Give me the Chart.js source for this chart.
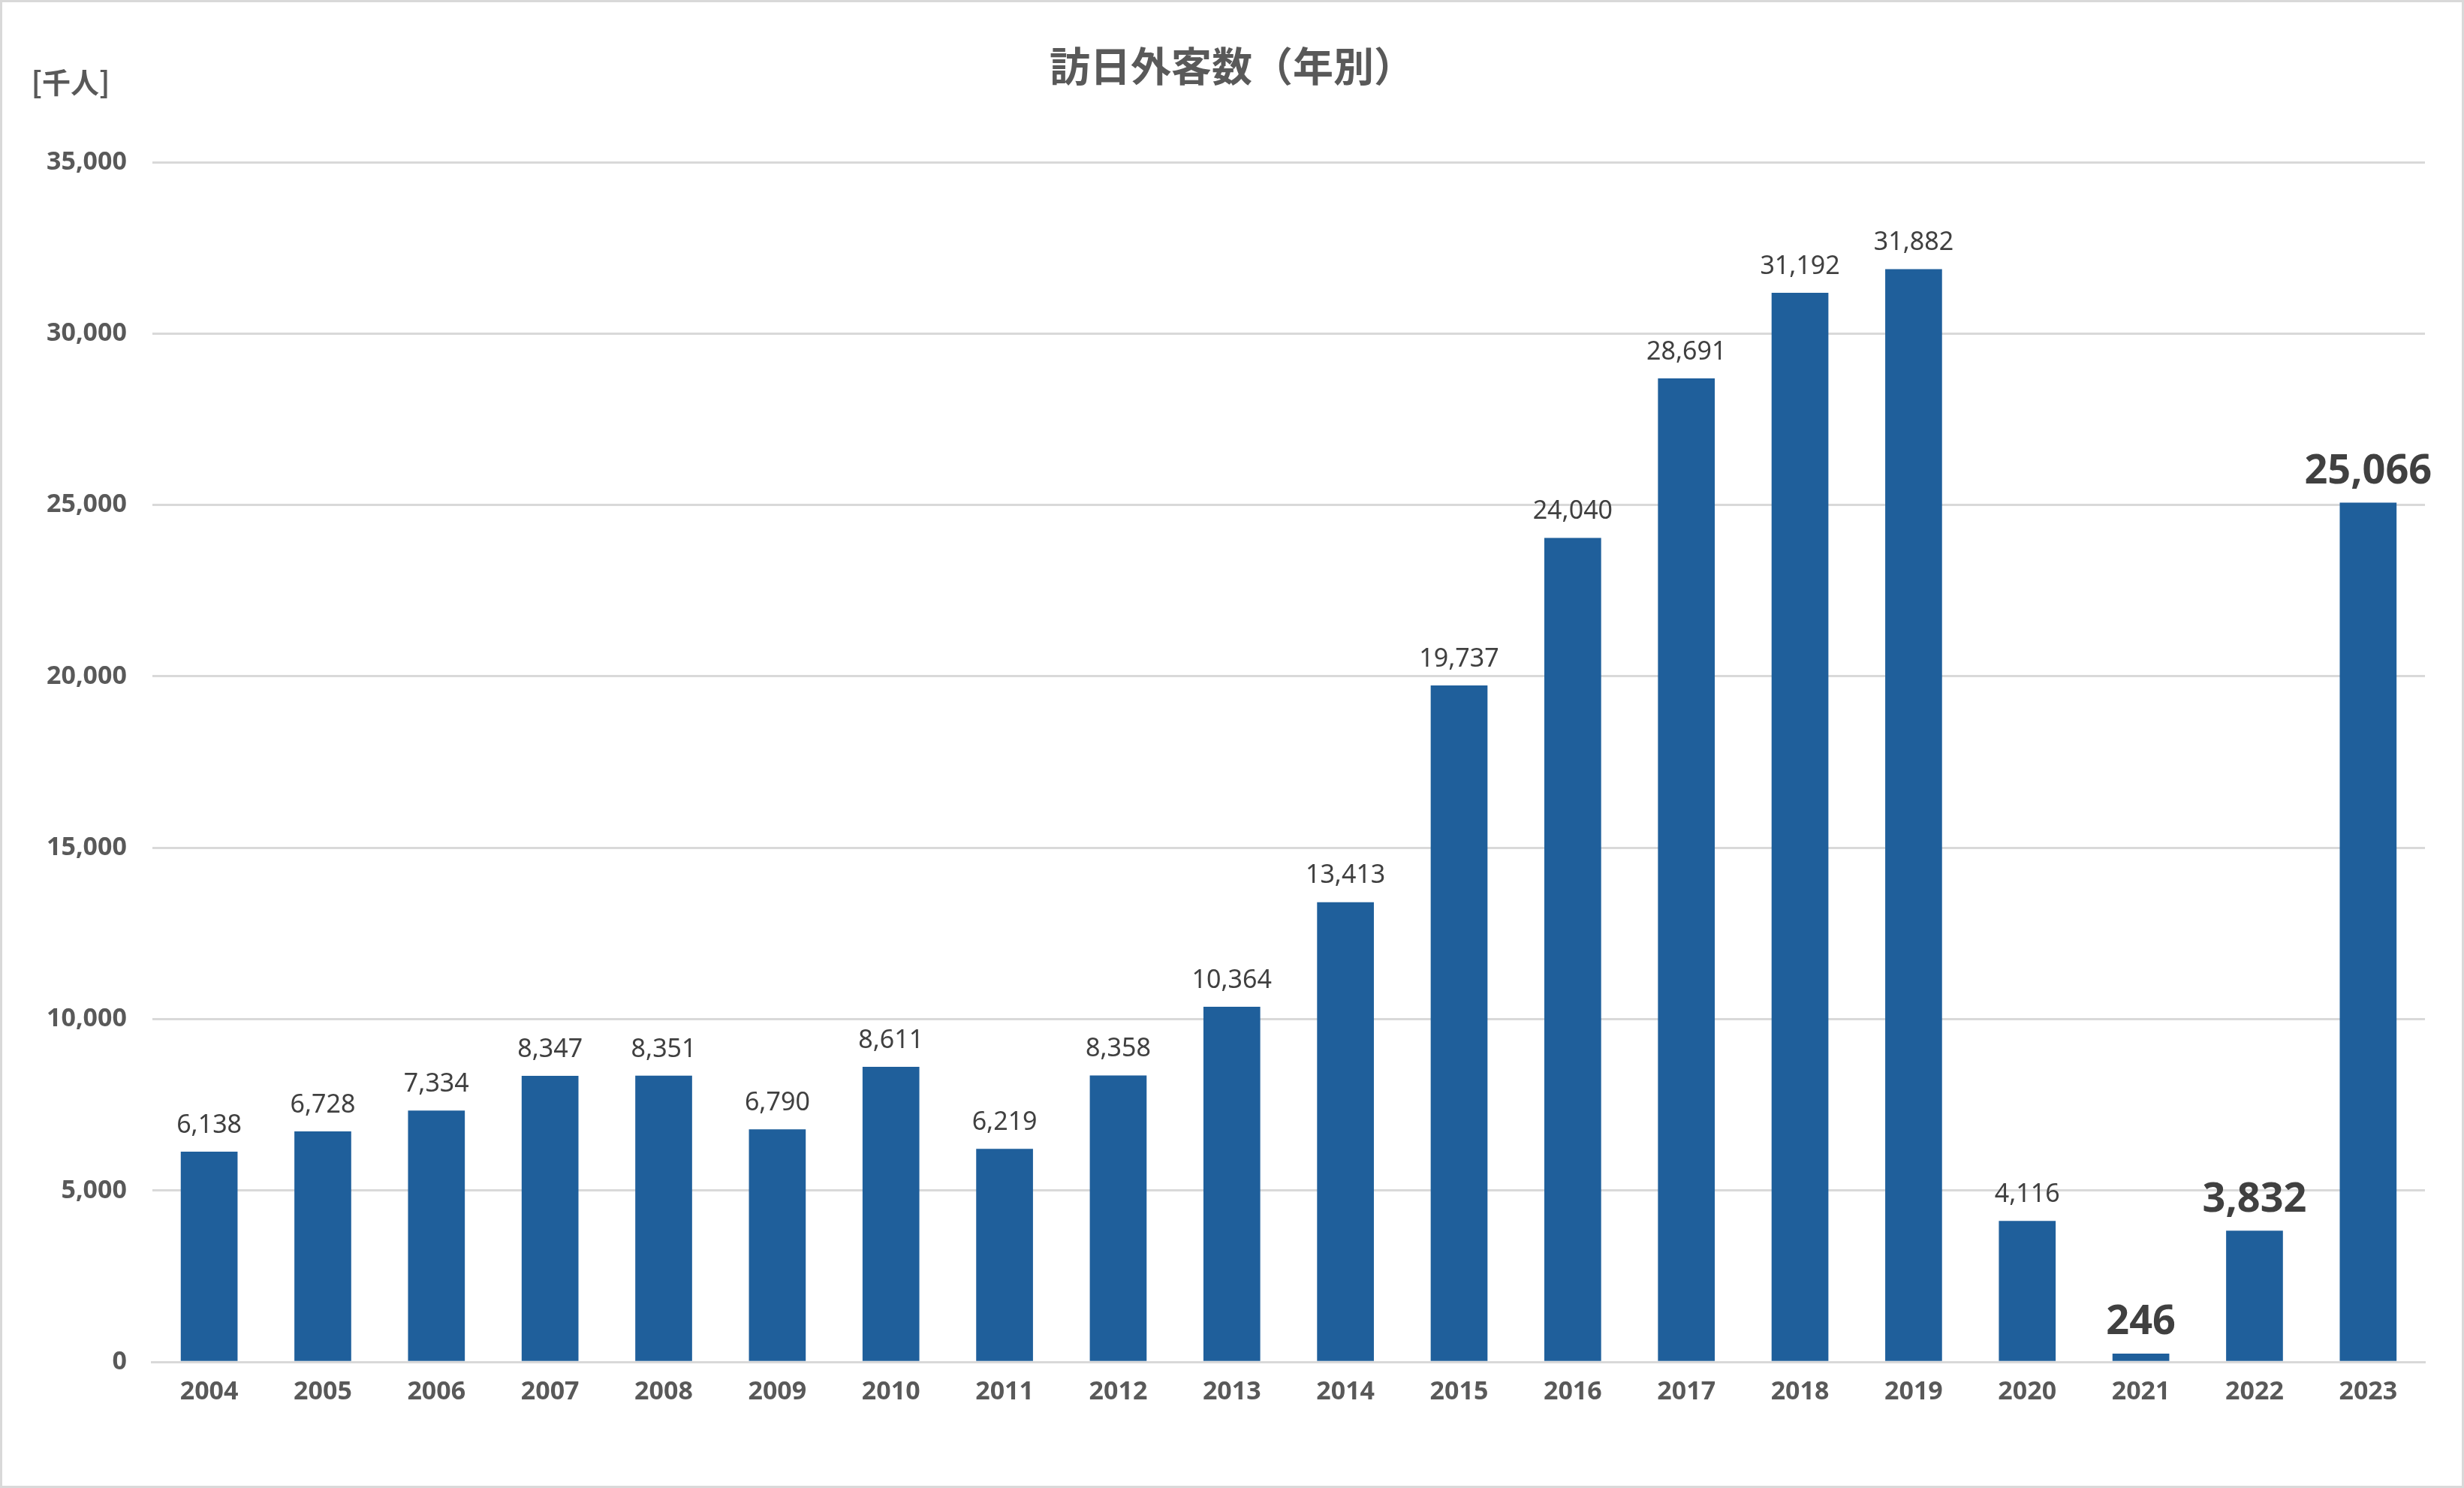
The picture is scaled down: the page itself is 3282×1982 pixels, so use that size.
<!DOCTYPE html>
<html><head><meta charset="utf-8">
<script src="https://cdn.jsdelivr.net/npm/chart.js@4"></script>
<style>html,body{margin:0;padding:0;background:#fff}canvas{display:block}</style>
</head><body>
<canvas id="c" width="3282" height="1982"></canvas>
<script>
const years=['2004','2005','2006','2007','2008','2009','2010','2011','2012','2013','2014','2015','2016','2017','2018','2019','2020','2021','2022','2023'];
const visitors=[6138,6728,7334,8347,8351,6790,8611,6219,8358,10364,13413,19737,24040,28691,31192,31882,4116,246,3832,25066];
const highlighted=['2021','2022','2023'];
const yTicksMax=35000, yTicksStep=5000;
const FONT='"Noto Sans CJK JP","Noto Sans",sans-serif';
const deco={id:'deco',afterDraw(ch){const c=ch.ctx;c.save();
 c.strokeStyle='#d9d9d9';c.lineWidth=3;c.strokeRect(1.5,1.5,ch.width-3,ch.height-3);
 c.fillStyle='#595959';c.textAlign='center';c.textBaseline='middle';
 c.font='bold 54px '+FONT;c.fillText('訪日外客数（年別）',1641,88);
 c.font='bold 38px '+FONT;c.fillText('[千人]',94,110);
 const m=ch.getDatasetMeta(0);
 m.data.forEach((b,i)=>{const hl=highlighted.includes(years[i]);
  c.fillStyle=hl?'#404040':'#404040';
  c.font=(hl?'bold 54px ':'34px ')+'"Noto Sans",sans-serif';
  c.textBaseline='bottom';
  c.fillText(visitors[i].toLocaleString('en-US'),b.x,b.y-(hl?14:18));});
 c.restore();}};
new Chart(document.getElementById('c'),{type:'bar',
 data:{labels:years,datasets:[{data:visitors,backgroundColor:'#1F5F9B',categoryPercentage:1,barPercentage:0.5}]},
 options:{responsive:false,animation:false,devicePixelRatio:1,
  layout:{padding:{top:216,left:28,right:52,bottom:95}},
  plugins:{legend:{display:false},tooltip:{enabled:false}},
  scales:{
   x:{grid:{display:false},border:{color:'#d9d9d9',width:3},ticks:{color:'#595959',font:{family:'"Noto Sans",sans-serif',size:34,weight:'bold'},padding:12}},
   y:{min:0,max:yTicksMax,ticks:{stepSize:yTicksStep,color:'#595959',font:{family:'"Noto Sans",sans-serif',size:34,weight:'bold'},padding:34,callback:v=>v.toLocaleString('en-US')},
      grid:{color:'#d9d9d9',lineWidth:3,drawTicks:false},border:{display:false}}}},
 plugins:[deco]});
</script></body></html>
